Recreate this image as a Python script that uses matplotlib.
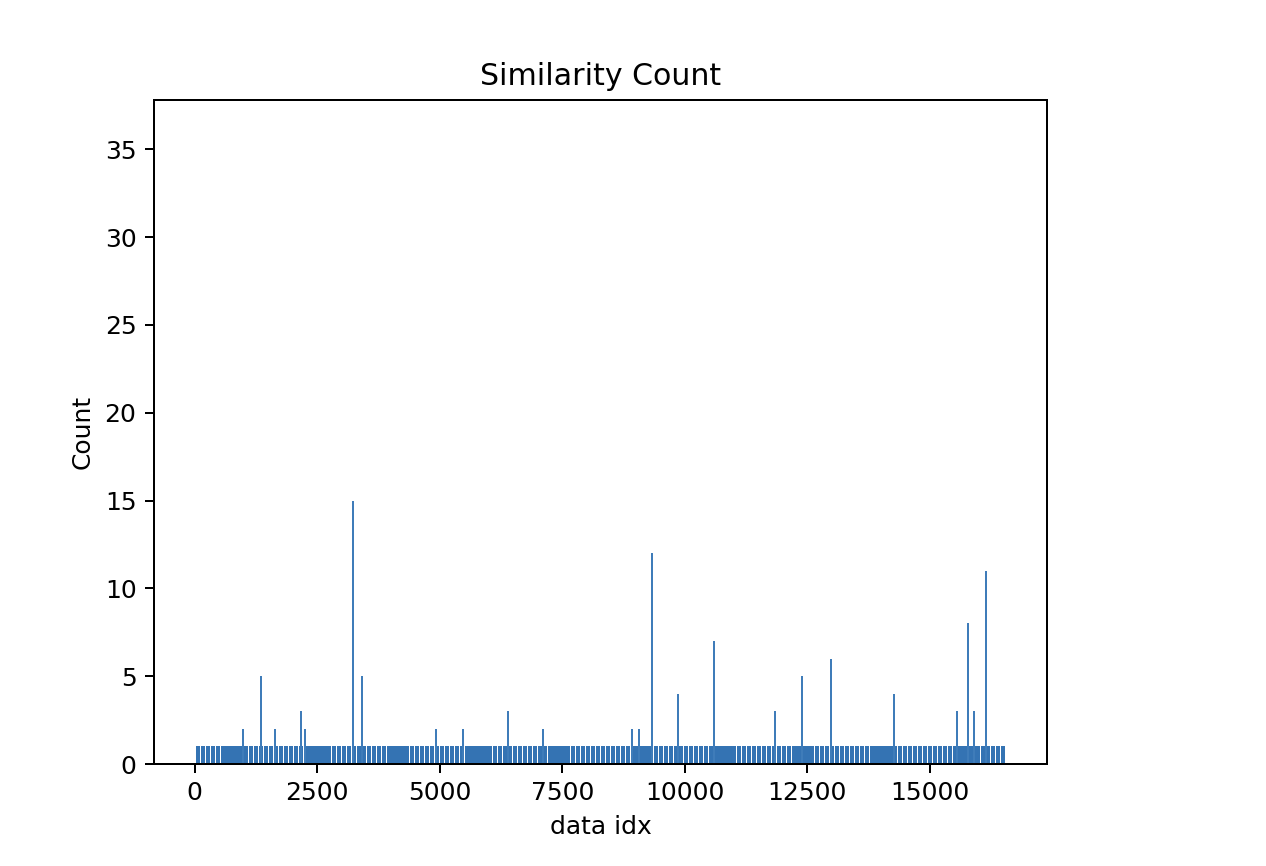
import numpy as np
import matplotlib
matplotlib.use('Agg')
import matplotlib.pyplot as plt

# number of data points, every idx has at least a count of 1
n_items = 16560

# indices with a higher similarity count
spike_idx = [995, 1363, 1649, 2167, 2242, 3230, 3414, 4922, 5477, 6391,
             7100, 8931, 9074, 9340, 9851, 10587, 11841, 12393, 12986,
             14265, 15561, 15778, 15894, 16140]
spike_count = [2, 5, 2, 3, 2, 15, 5, 2, 2, 3,
               2, 2, 2, 12, 4, 7, 3, 5, 6,
               4, 3, 8, 3, 11]

idx = np.arange(n_items)
counts = np.ones(n_items)
counts[spike_idx] = spike_count

s = 1.8  # scale of the original 640x480 figure
plt.rcParams['font.size'] = 10 * s
plt.rcParams['axes.linewidth'] = 0.8 * s
for a in ('xtick', 'ytick'):
    plt.rcParams[a + '.major.size'] = 3.5 * s
    plt.rcParams[a + '.major.width'] = 0.8 * s
    plt.rcParams[a + '.major.pad'] = 3.5 * s

fig = plt.figure(figsize=(12.66, 8.66), dpi=100)
ax = fig.add_axes([154 / 1266, (866 - 764) / 866, 893 / 1266, 664 / 866])

color = '#3473b3'
ax.bar(idx, counts, width=0.85, color=color)
# spikes drawn again a little wider so they survive the pixel grid
ax.bar(spike_idx, spike_count, width=41, color='#3f7cb9')

ax.set_ylim(0, 37.8)
ax.set_xlim(-828, 17387)
ax.set_yticks([0, 5, 10, 15, 20, 25, 30, 35])
ax.set_xticks([0, 2500, 5000, 7500, 10000, 12500, 15000])
ax.set_title('Similarity Count', pad=6 * s)
ax.set_xlabel('data idx', labelpad=4 * s)
ax.set_ylabel('Count', labelpad=4 * s)

fig.savefig('out.png', dpi=100)
